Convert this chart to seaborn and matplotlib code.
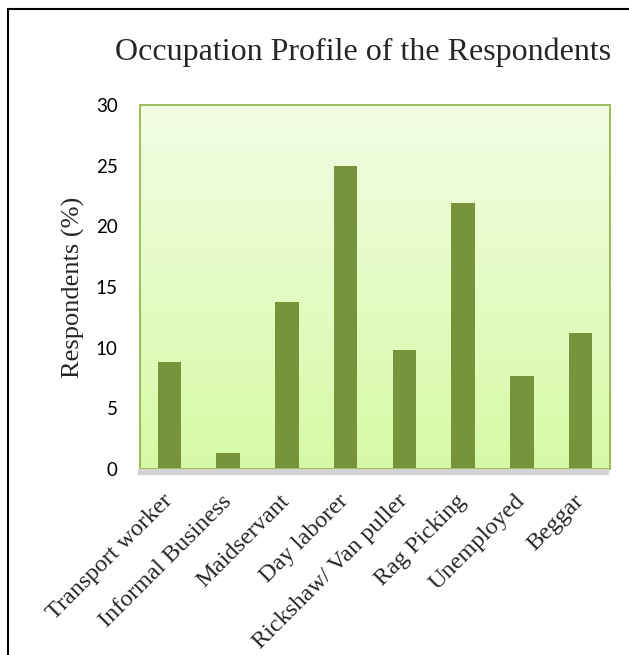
import matplotlib
matplotlib.use('Agg')
import matplotlib.pyplot as plt
from matplotlib.patches import Rectangle
from matplotlib.lines import Line2D
import seaborn as sns
import numpy as np
import pandas as pd

occupations = ['Transport worker', 'Informal Business', 'Maidservant', 'Day laborer',
               'Rickshaw/ Van puller', 'Rag Picking', 'Unemployed', 'Beggar']
respondents = [8.8, 1.3, 13.8, 25.0, 9.8, 21.9, 7.7, 11.2]
yticks = [0, 5, 10, 15, 20, 25, 30]

df = pd.DataFrame({'occupation': occupations, 'pct': respondents})

sns.set_theme(style='white')
serif = ['Liberation Serif', 'DejaVu Serif']
sans = ['Lato', 'DejaVu Sans']

fig = plt.figure(figsize=(6.29, 6.55), dpi=100)
pos = [0.2226, 0.284, 0.7472, 0.5557]
ax = fig.add_axes(pos)

# gradient fill of the plot area
grad = np.linspace(0, 1, 256).reshape(-1, 1)
top = np.array([0.95, 0.99, 0.89])
bot = np.array([0.84, 0.98, 0.65])
img = top * (1 - grad[..., None]) + bot * grad[..., None]
ax.imshow(img, extent=[0, 1, 0, 1], transform=ax.transAxes, aspect='auto', zorder=0)

# soft shadow under the plot area
fig.patches.append(Rectangle((pos[0] - 0.003, pos[1] - 0.008), pos[2], 0.008,
                             transform=fig.transFigure, color='#d2d2d2', zorder=0))

sns.barplot(data=df, x='occupation', y='pct', color='#77933C', saturation=1,
            width=0.4, linewidth=0, ax=ax, zorder=2)

ax.set_ylim(0, 30)
ax.set_xlim(-0.5, len(occupations) - 0.5)
ax.set_yticks(yticks)
ax.set_yticklabels([str(v) for v in yticks], family=sans, fontsize=13.5, color='black')
ax.tick_params(axis='y', length=0, pad=16)
ax.tick_params(axis='x', length=0, pad=21)
ax.set_xlabel('')
ax.set_ylabel('Respondents (%)', family=serif, fontsize=19, labelpad=8)

for lab in ax.get_xticklabels():
    lab.set_family(serif)
    lab.set_fontsize(17.5)
    lab.set_rotation(45)
    lab.set_ha('right')
    lab.set_va('center')
    lab.set_rotation_mode('anchor')

for sp in ax.spines.values():
    sp.set_color('#9BBB59')
    sp.set_linewidth(1.4)
    sp.set_visible(True)

fig.text(0.577, 0.908, 'Occupation Profile of the Respondents', family=serif,
         fontsize=23, ha='center', va='baseline')

# frame lines of the cropped chart box
fig.lines.append(Line2D([0.013, 1], [0.986, 0.986], transform=fig.transFigure,
                        color='black', lw=1.5))
fig.lines.append(Line2D([0.013, 0.013], [0, 0.986], transform=fig.transFigure,
                        color='black', lw=1.5))

fig.savefig('out.png', dpi=100)
